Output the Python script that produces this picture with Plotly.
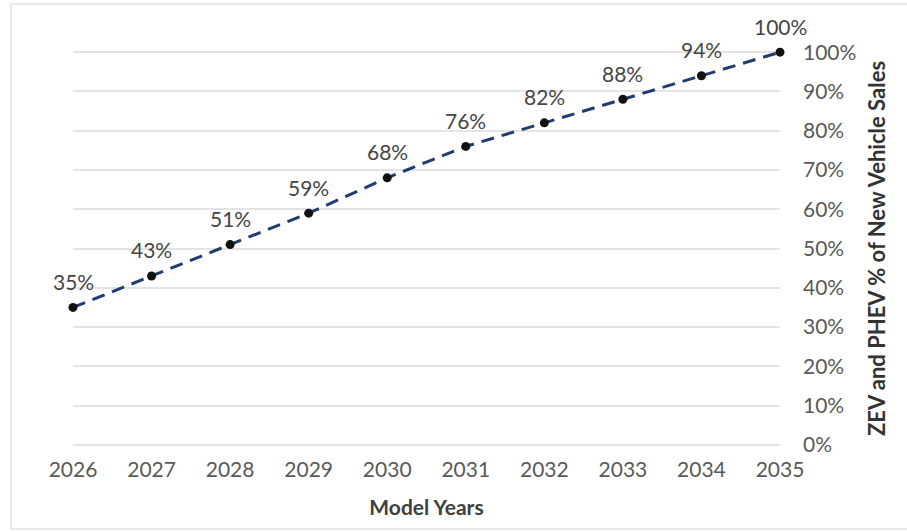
import plotly.graph_objects as go

years = [2026, 2027, 2028, 2029, 2030, 2031, 2032, 2033, 2034, 2035]
share = [0.35, 0.43, 0.51, 0.59, 0.68, 0.76, 0.82, 0.88, 0.94, 1.00]
labels = ["35%", "43%", "51%", "59%", "68%", "76%", "82%", "88%", "94%", "100%"]

FONT = "Lato"
W, H = 907, 532
L, R, T, B = 73, 127, 51, 86
pw, ph = W - L - R, H - T - B
YR = [-0.003, 1.003]

fig = go.Figure()
fig.add_trace(go.Scatter(
    x=years, y=share, mode="lines+markers",
    line=dict(color="#1f3d6e", width=3, dash="13px,8px"),
    marker=dict(color="#111111", size=9),
    cliponaxis=False, hoverinfo="skip",
))

for x, y, t in zip(years, share, labels):
    fig.add_annotation(x=x, y=y, text=t, showarrow=False, yshift=26,
                       font=dict(family=FONT, size=21, color="#454545"))

def px2x(p):
    return (p - L) / pw

def px2y(p):
    return (H - B - p) / ph

fig.add_shape(type="rect", xref="paper", yref="paper",
              x0=px2x(11), x1=px2x(915), y0=px2y(529), y1=px2y(4),
              line=dict(color="#e8e8e8", width=2), layer="below")

fig.update_layout(
    width=W, height=H,
    margin=dict(l=L, r=R, t=T, b=B, autoexpand=False),
    plot_bgcolor="white", paper_bgcolor="white",
    showlegend=False,
    font=dict(family=FONT, color="#595959"),
    xaxis=dict(
        range=[2026, 2035], tickvals=years, showgrid=False, zeroline=False,
        showline=False, ticks="", tickfont=dict(size=21, color="#595959"),
        ticklabelstandoff=9, automargin=False,
        title=dict(text="Model Years", font=dict(size=21, color="#404040", weight="bold"), standoff=20),
    ),
    yaxis=dict(
        side="right", range=YR, dtick=0.1, tickformat=".0%",
        showgrid=True, gridcolor="#e4e4e4", gridwidth=1.5, zeroline=False,
        showline=False, ticks="", tickfont=dict(size=21, color="#595959"),
        ticklabelstandoff=22, automargin=False,
        title=dict(text="ZEV and PHEV % of New Vehicle Sales",
                   font=dict(size=22, color="#333333", weight="bold"), standoff=14),
    ),
)

fig.write_html("out.html", post_script="document.body.style.margin='0px';",
               config={"displayModeBar": False})
